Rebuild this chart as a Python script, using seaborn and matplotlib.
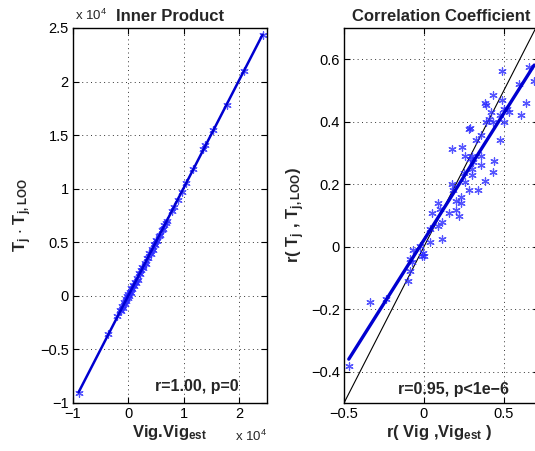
import matplotlib
matplotlib.use('Agg')
import matplotlib.pyplot as plt
from matplotlib.ticker import FuncFormatter
import seaborn as sns

sns.set_theme(style='white')
plt.rcParams['font.family'] = ['Liberation Sans', 'DejaVu Sans']
plt.rcParams['mathtext.default'] = 'regular'

# ---- Inner product panel (values in units of 1e4) ----
inner_est = [-0.90, -0.37, -0.20, -0.15, -0.13, -0.11, -0.10, -0.08, -0.07, -0.05,
             -0.04, -0.02, -0.01, 0.00, 0.01, 0.02, 0.04, 0.05, 0.07, 0.08,
             0.10, 0.11, 0.13, 0.15, 0.17, 0.19, 0.21, 0.23, 0.25, 0.27,
             0.29, 0.31, 0.33, 0.36, 0.38, 0.40, 0.42, 0.44, 0.46, 0.48,
             0.50, 0.52, 0.55, 0.57, 0.60, 0.62, 0.65, 0.67, 0.69, 0.78,
             0.82, 0.89, 0.97, 1.03, 1.16, 1.35, 1.38, 1.53, 1.78, 2.08,
             2.42]
inner_loo = [-0.91, -0.36, -0.19, -0.13, -0.14, -0.09, -0.11, -0.06, -0.08, -0.03,
             -0.05, 0.00, -0.02, 0.02, 0.00, 0.04, 0.03, 0.07, 0.06, 0.10,
             0.09, 0.13, 0.12, 0.17, 0.15, 0.21, 0.20, 0.24, 0.27, 0.26,
             0.31, 0.30, 0.35, 0.35, 0.40, 0.39, 0.44, 0.43, 0.48, 0.47,
             0.52, 0.51, 0.56, 0.57, 0.61, 0.62, 0.66, 0.68, 0.70, 0.79,
             0.83, 0.89, 0.97, 1.05, 1.18, 1.37, 1.41, 1.55, 1.78, 2.10,
             2.43]

# ---- Correlation coefficient panel ----
corr_est = [0.486, 0.66, 0.69, 0.594, 0.38, 0.39, 0.43, 0.49, 0.50, 0.52,
            0.53, 0.64, 0.61, 0.475, 0.417, 0.41, 0.43, 0.39, 0.50, 0.29,
            0.28, 0.354, 0.325, 0.475, 0.175, 0.24, 0.26, 0.30, 0.36, 0.29,
            0.31, 0.44, 0.36, 0.43, 0.30, 0.25, 0.30, 0.26, 0.38, 0.28,
            0.34, 0.175, 0.18, 0.20, 0.235, 0.235, 0.09, 0.10, 0.16, 0.20,
            0.22, 0.05, 0.11, 0.09, 0.04, 0.11, 0.04, -0.025, -0.004, -0.01,
            0.00, -0.07, -0.09, -0.077, -0.09, -0.10, -0.24, -0.34, -0.47]
corr_loo = [0.563, 0.574, 0.53, 0.52, 0.46, 0.455, 0.486, 0.47, 0.44, 0.44,
            0.43, 0.46, 0.42, 0.42, 0.43, 0.41, 0.40, 0.40, 0.40, 0.38,
            0.376, 0.358, 0.342, 0.34, 0.313, 0.32, 0.29, 0.29, 0.29, 0.28,
            0.27, 0.275, 0.26, 0.238, 0.25, 0.236, 0.23, 0.206, 0.21, 0.18,
            0.18, 0.20, 0.18, 0.145, 0.16, 0.14, 0.14, 0.12, 0.108, 0.118,
            0.097, 0.108, 0.08, 0.065, 0.057, 0.025, 0.014, 0.003, -0.02, -0.031,
            -0.029, -0.01, -0.04, -0.05, -0.077, -0.11, -0.166, -0.178, -0.38]

inner_xticks = [-1, 0, 1, 2]
inner_yticks = [-1, -0.5, 0, 0.5, 1, 1.5, 2, 2.5]
corr_xticks = [-0.5, 0, 0.5]
corr_yticks = [-0.4, -0.2, 0, 0.2, 0.4, 0.6]

W, H = 535, 451
fig = plt.figure(figsize=(W / 100, H / 100), dpi=100)
ax1 = fig.add_axes([73 / W, 48 / H, 194 / W, 375 / H])
ax2 = fig.add_axes([344 / W, 48 / H, 195 / W, 375 / H])

fmt = FuncFormatter(lambda v, p: ('%g' % v).replace('-', '\u2212'))
asterisk = (6, 2, 0)

sns.regplot(x=inner_est, y=inner_loo, ax=ax1, ci=None, marker=asterisk, color='blue',
            scatter_kws=dict(s=28, linewidths=0.9, color='#2a2aff'),
            line_kws=dict(lw=1.8, color='#0000d0'))
ax2.axline((0, 0), slope=1, color='black', lw=0.8, zorder=1)
sns.regplot(x=corr_est, y=corr_loo, ax=ax2, ci=None, marker=asterisk, color='blue',
            scatter_kws=dict(s=28, linewidths=0.9, color='#2a2aff'),
            line_kws=dict(lw=2.4, color='#0000d0'))

for ax in (ax1, ax2):
    ax.grid(True, linestyle=(0, (1, 3.5)), color='0.2', lw=0.7)
    ax.tick_params(direction='in', length=4, width=0.8, top=True, right=True,
                   labelsize=10.5, colors='black', pad=3,
                   bottom=True, left=True)
    for s in ax.spines.values():
        s.set_color('black')
        s.set_linewidth(1.0)
    ax.xaxis.set_major_formatter(fmt)
    ax.yaxis.set_major_formatter(fmt)

ax1.set_xlim(-1, 2.5)
ax1.set_ylim(-1, 2.5)
ax1.set_xticks(inner_xticks)
ax1.set_yticks(inner_yticks)
ax2.set_xlim(-0.5, 0.72)
ax2.set_ylim(-0.5, 0.7)
ax2.set_xticks(corr_xticks)
ax2.set_yticks(corr_yticks)

ax1.set_title('Inner Product', fontweight='bold', fontsize=12, pad=5)
ax2.set_title('Correlation Coefficient', fontweight='bold', fontsize=12, pad=5)

ax1.set_xlabel('Vig.Vig$_{est}$', fontweight='bold', fontsize=12)
ax1.set_ylabel('T$_j$ $\\cdot$ T$_{j,LOO}$', fontweight='bold', fontsize=12)
ax2.set_xlabel('r( Vig ,Vig$_{est}$ )', fontweight='bold', fontsize=12)
ax2.set_ylabel('r( T$_j$ , T$_{j,LOO}$)', fontweight='bold', fontsize=12)
ax1.xaxis.set_label_coords(0.5, -0.054)
ax2.xaxis.set_label_coords(0.49, -0.054)
ax1.yaxis.set_label_coords(-0.2, 0.5)
ax2.yaxis.set_label_coords(-0.19, 0.5)

ax1.text(0.01, 1.012, 'x 10$^4$', transform=ax1.transAxes, fontsize=9.5, ha='left', va='bottom')
ax1.text(1.0, -0.088, 'x 10$^4$', transform=ax1.transAxes, fontsize=9.5, ha='right', va='center')

ax1.text(0.64, 0.045, 'r=1.00, p=0', transform=ax1.transAxes, fontsize=11.5,
         fontweight='bold', ha='center', va='center')
ax2.text(0.56, 0.035, 'r=0.95, p<1e\u22126', transform=ax2.transAxes, fontsize=11.5,
         fontweight='bold', ha='center', va='center')

fig.savefig('out.png', dpi=100)
